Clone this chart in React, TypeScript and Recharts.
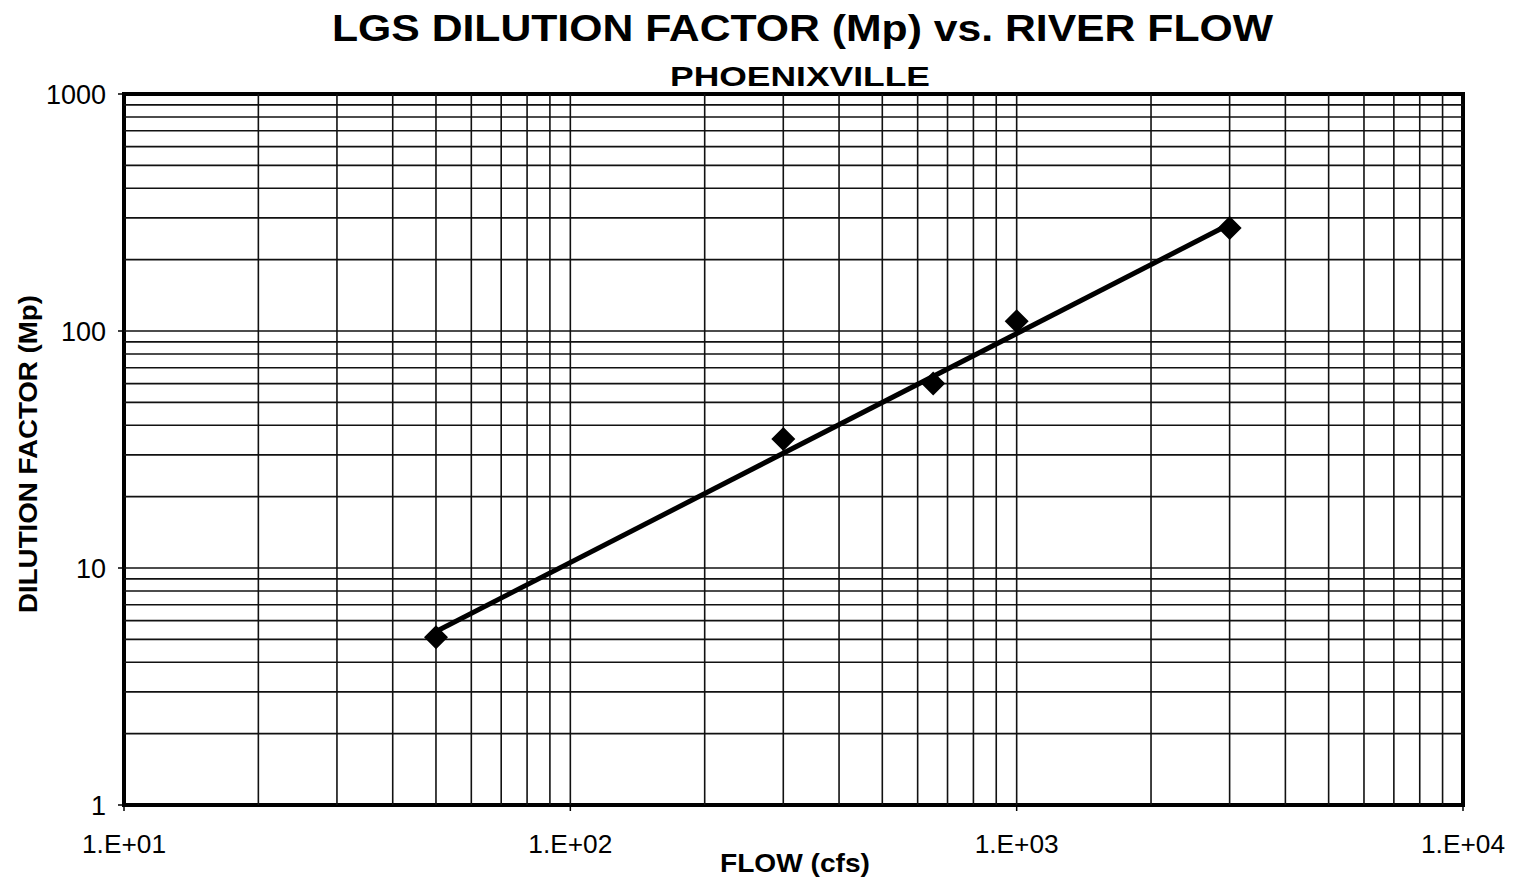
import React from 'react';
import {
  ScatterChart,
  Scatter,
  XAxis,
  YAxis,
  ReferenceLine,
  ReferenceArea,
} from 'recharts';

// measured points (flow in cfs, dilution factor Mp)
const flows = [50, 300, 650, 1000, 3000];
const dilution = [5.1, 35, 60, 110, 272];

// power trendline ends
const trendFlows = [50, 3000];
const trendDilution = [5.4, 282];

const xTicks = [10, 100, 1000, 10000];
const yTicks = [1, 10, 100, 1000];
const xTickLabels = ['1.E+01', '1.E+02', '1.E+03', '1.E+04'];

const xGrid = [
  20, 30, 40, 50, 60, 70, 80, 90,
  100, 200, 300, 400, 500, 600, 700, 800, 900,
  1000, 2000, 3000, 4000, 5000, 6000, 7000, 8000, 9000,
];
const yGrid = [
  2, 3, 4, 5, 6, 7, 8, 9,
  10, 20, 30, 40, 50, 60, 70, 80, 90,
  100, 200, 300, 400, 500, 600, 700, 800, 900,
];

const points = flows.map((x, i) => ({ x, y: dilution[i] }));
const trend = trendFlows.map((x, i) => ({ x, y: trendDilution[i] }));

const FONT = '"Liberation Sans", Arial, sans-serif';

const Diamond = (props: any) => {
  const { cx, cy } = props;
  const r = 12;
  return (
    <polygon
      points={`${cx},${cy - r} ${cx + r},${cy} ${cx},${cy + r} ${cx - r},${cy}`}
      fill="#000"
    />
  );
};

const XTick = (props: any) => {
  const { x, y, index } = props;
  return (
    <text
      x={x}
      y={y + 40}
      textAnchor="middle"
      fontFamily={FONT}
      fontSize={25}
      fill="#000"
      textLength={84}
      lengthAdjust="spacingAndGlyphs"
    >
      {xTickLabels[index]}
    </text>
  );
};

const YTick = (props: any) => {
  const { x, y, payload } = props;
  return (
    <text
      x={x - 10}
      y={y}
      dy="0.36em"
      textAnchor="end"
      fontFamily={FONT}
      fontSize={27}
      fill="#000"
    >
      {payload.value}
    </text>
  );
};

export default function App() {
  return (
    <div style={{ position: 'relative', width: 1510, height: 875, background: '#fff' }}>
      <ScatterChart
        width={1510}
        height={875}
        margin={{ top: 86, right: 55, bottom: 18, left: 36 }}
      >
        <XAxis
          dataKey="x"
          type="number"
          scale="log"
          domain={[10, 10000]}
          ticks={xTicks}
          interval={0}
          allowDataOverflow
          height={60}
          axisLine={false}
          tickLine={{ stroke: '#000', strokeWidth: 1.5 }}
          tickSize={6}
          tick={<XTick />}
        />
        <YAxis
          dataKey="y"
          type="number"
          scale="log"
          domain={[1, 1000]}
          ticks={yTicks}
          interval={0}
          allowDataOverflow
          width={80}
          axisLine={false}
          tickLine={{ stroke: '#000', strokeWidth: 1.5 }}
          tickSize={6}
          tick={<YTick />}
        />
        {xGrid.map((v) => (
          <ReferenceLine key={`gx-${v}`} x={v} stroke="#111" strokeWidth={1.6} />
        ))}
        {yGrid.map((v) => (
          <ReferenceLine key={`gy-${v}`} y={v} stroke="#111" strokeWidth={1.6} />
        ))}
        <ReferenceArea
          x1={10}
          x2={10000}
          y1={1}
          y2={1000}
          fill="none"
          fillOpacity={0}
          stroke="#000"
          strokeWidth={4}
        />
        <Scatter
          data={trend}
          line={{ stroke: '#000', strokeWidth: 5 }}
          shape={() => null}
          isAnimationActive={false}
        />
        <Scatter data={points} shape={<Diamond />} isAnimationActive={false} />
      </ScatterChart>
      <svg
        width={1510}
        height={875}
        style={{ position: 'absolute', left: 0, top: 0, pointerEvents: 'none' }}
      >
        <text
          x={324}
          y={33}
          fontFamily={FONT}
          fontWeight="bold"
          fontSize={36}
          textLength={941}
          lengthAdjust="spacingAndGlyphs"
          fill="#000"
        >
          LGS DILUTION FACTOR (Mp) vs. RIVER FLOW
        </text>
        <text
          x={662}
          y={78}
          fontFamily={FONT}
          fontWeight="bold"
          fontSize={28}
          textLength={260}
          lengthAdjust="spacingAndGlyphs"
          fill="#000"
        >
          PHOENIXVILLE
        </text>
        <text
          x={712}
          y={864}
          fontFamily={FONT}
          fontWeight="bold"
          fontSize={25}
          textLength={150}
          lengthAdjust="spacingAndGlyphs"
          fill="#000"
        >
          FLOW (cfs)
        </text>
        <text
          transform="translate(29, 446) rotate(-90)"
          textAnchor="middle"
          fontFamily={FONT}
          fontWeight="bold"
          fontSize={25}
          textLength={318}
          lengthAdjust="spacingAndGlyphs"
          fill="#000"
        >
          DILUTION FACTOR (Mp)
        </text>
      </svg>
    </div>
  );
}
